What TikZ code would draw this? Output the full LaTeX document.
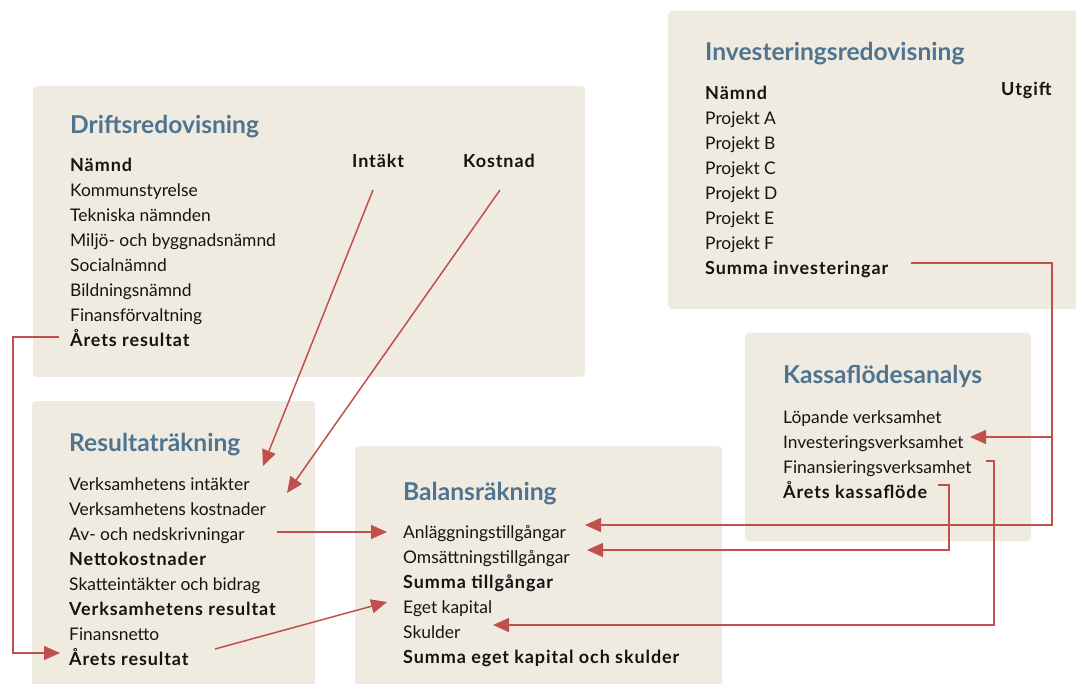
\documentclass[tikz,border=0pt]{standalone}
\usepackage{fontspec}
\setmainfont{Lato}
\newfontfamily\bfrowfont[LetterSpace=5]{Lato}
\usetikzlibrary{arrows.meta,calc}
\definecolor{boxbg}{HTML}{F0EBE1}
\definecolor{titleblue}{HTML}{4E7490}
\definecolor{arrred}{HTML}{C0504D}
\definecolor{txt}{HTML}{141414}
\tikzset{
  panel/.style={fill=boxbg, draw=none, rounded corners=4pt},
  title/.style={anchor=base west, inner sep=0pt, text=titleblue, font=\bfseries\fontsize{24.6}{25}\selectfont},
  row/.style={anchor=base west, inner sep=0pt, text=txt, font=\fontsize{17.4}{18}\selectfont},
  brow/.style={anchor=base west, inner sep=0pt, text=txt, font=\bfrowfont\bfseries\fontsize{18}{18}\selectfont},
  link/.style={draw=arrred, line width=1.5pt},
  arr/.style={link, -{Triangle[length=16pt,width=14pt]}},
}
\begin{document}
\begin{tikzpicture}[x=1pt,y=-1pt]
\useasboundingbox (0,0) rectangle (1076,684);
\clip (0,0) rectangle (1076,684);
\fill[white] (0,0) rectangle (1076,684);
% panels
\path[panel] (33,86) rectangle (585,377);
\path[panel] (668,11) rectangle (1090,309);
\path[panel] (745,333) rectangle (1031,541);
\path[panel] (32,401) rectangle (315,700);
\path[panel] (355,446) rectangle (722,700);
% Driftsredovisning
\node[title] (dTitle) at (70,134) {Driftsredovisning};
\node[brow] (dNamnd) at (70,172) {Nämnd};
\node[brow] (dIntakt) at (352,168) {Intäkt};
\node[brow] (dKostnad) at (463,168) {Kostnad};
\node[row] (dKs) at (70,197) {Kommunstyrelse};
\node[row] (dTek) at (70,222) {Tekniska nämnden};
\node[row] (dMil) at (70,247) {Miljö- och byggnadsnämnd};
\node[row] (dSoc) at (70,272) {Socialnämnd};
\node[row] (dBil) at (70,297) {Bildningsnämnd};
\node[row] (dFin) at (70,322) {Finansförvaltning};
\node[brow] (dArets) at (70,347) {Årets resultat};
% Investeringsredovisning
\node[title] (iTitle) at (705,61) {Investeringsredovisning};
\node[brow] (iNamnd) at (705,100) {Nämnd};
\node[brow] (iUtgift) at (1001,96) {Utgift};
\node[row] (iA) at (705,125) {Projekt A};
\node[row] (iB) at (705,150) {Projekt B};
\node[row] (iC) at (705,175) {Projekt C};
\node[row] (iD) at (705,200) {Projekt D};
\node[row] (iE) at (705,225) {Projekt E};
\node[row] (iF) at (705,250) {Projekt F};
\node[brow] (iSumma) at (705,275) {Summa investeringar};
% Kassaflödesanalys
\node[title] (kTitle) at (783,384) {Kassaflödesanalys};
\node[row] (kLop) at (783,423) {Löpande verksamhet};
\node[row] (kInv) at (783,448) {Investeringsverksamhet};
\node[row] (kFin) at (783,473) {Finansieringsverksamhet};
\node[brow] (kArets) at (783,498) {Årets kassaflöde};
% Resultaträkning
\node[title] (rTitle) at (69,451) {Resultaträkning};
\node[row] (rVi) at (69,490) {Verksamhetens intäkter};
\node[row] (rVk) at (69,515) {Verksamhetens kostnader};
\node[row] (rAv) at (69,540) {Av- och nedskrivningar};
\node[brow] (rNetto) at (69,565) {Nettokostnader};
\node[row] (rSkatt) at (69,590) {Skatteintäkter och bidrag};
\node[brow] (rVr) at (69,615) {Verksamhetens resultat};
\node[row] (rFn) at (69,640) {Finansnetto};
\node[brow] (rArets) at (69,665) {Årets resultat};
% Balansräkning
\node[title] (bTitle) at (403,500) {Balansräkning};
\node[row] (bAnl) at (403,538) {Anläggningstillgångar};
\node[row] (bOms) at (403,563) {Omsättningstillgångar};
\node[brow] (bSt) at (403,588) {Summa tillgångar};
\node[row] (bEget) at (403,613) {Eget kapital};
\node[row] (bSkulder) at (403,638) {Skulder};
\node[brow] (bSek) at (403,663) {Summa eget kapital och skulder};
% connectors
\draw[arr] ($(dIntakt.base west)+(21,22)$) -- ($(rVi.base west)+(194,-24)$);
\draw[arr] ($(dKostnad.base west)+(37,22)$) -- ($(rVk.base west)+(218,-22)$);
\draw[arr] ($(dArets.base west)+(-11,-10)$) -- ++(-46,0) |- ($(rArets.base west)+(-9,-12)$);
\draw[arr] ($(rAv.base west)+(208,-8)$) -- ($(bAnl.base west)+(-16,-6)$);
\draw[arr] ($(rArets.base west)+(146,-16)$) -- ($(bEget.base west)+(-16,-11)$);
\draw[arr] ($(iSumma.base west)+(206,-12)$) -- ++(141,0) |- ($(bAnl.base west)+(182,-13)$);
\draw[arr] ($(kInv.base west)+(269,-11)$) -- ($(kInv.base west)+(187,-11)$);
\draw[arr] ($(kArets.base west)+(155,-13)$) -- ++(11,0) |- ($(bOms.base west)+(184,-13)$);
\draw[arr] ($(kFin.base west)+(203,-12)$) -- ++(8,0) |- ($(bSkulder.base west)+(90,-13)$);
\end{tikzpicture}
\end{document}
